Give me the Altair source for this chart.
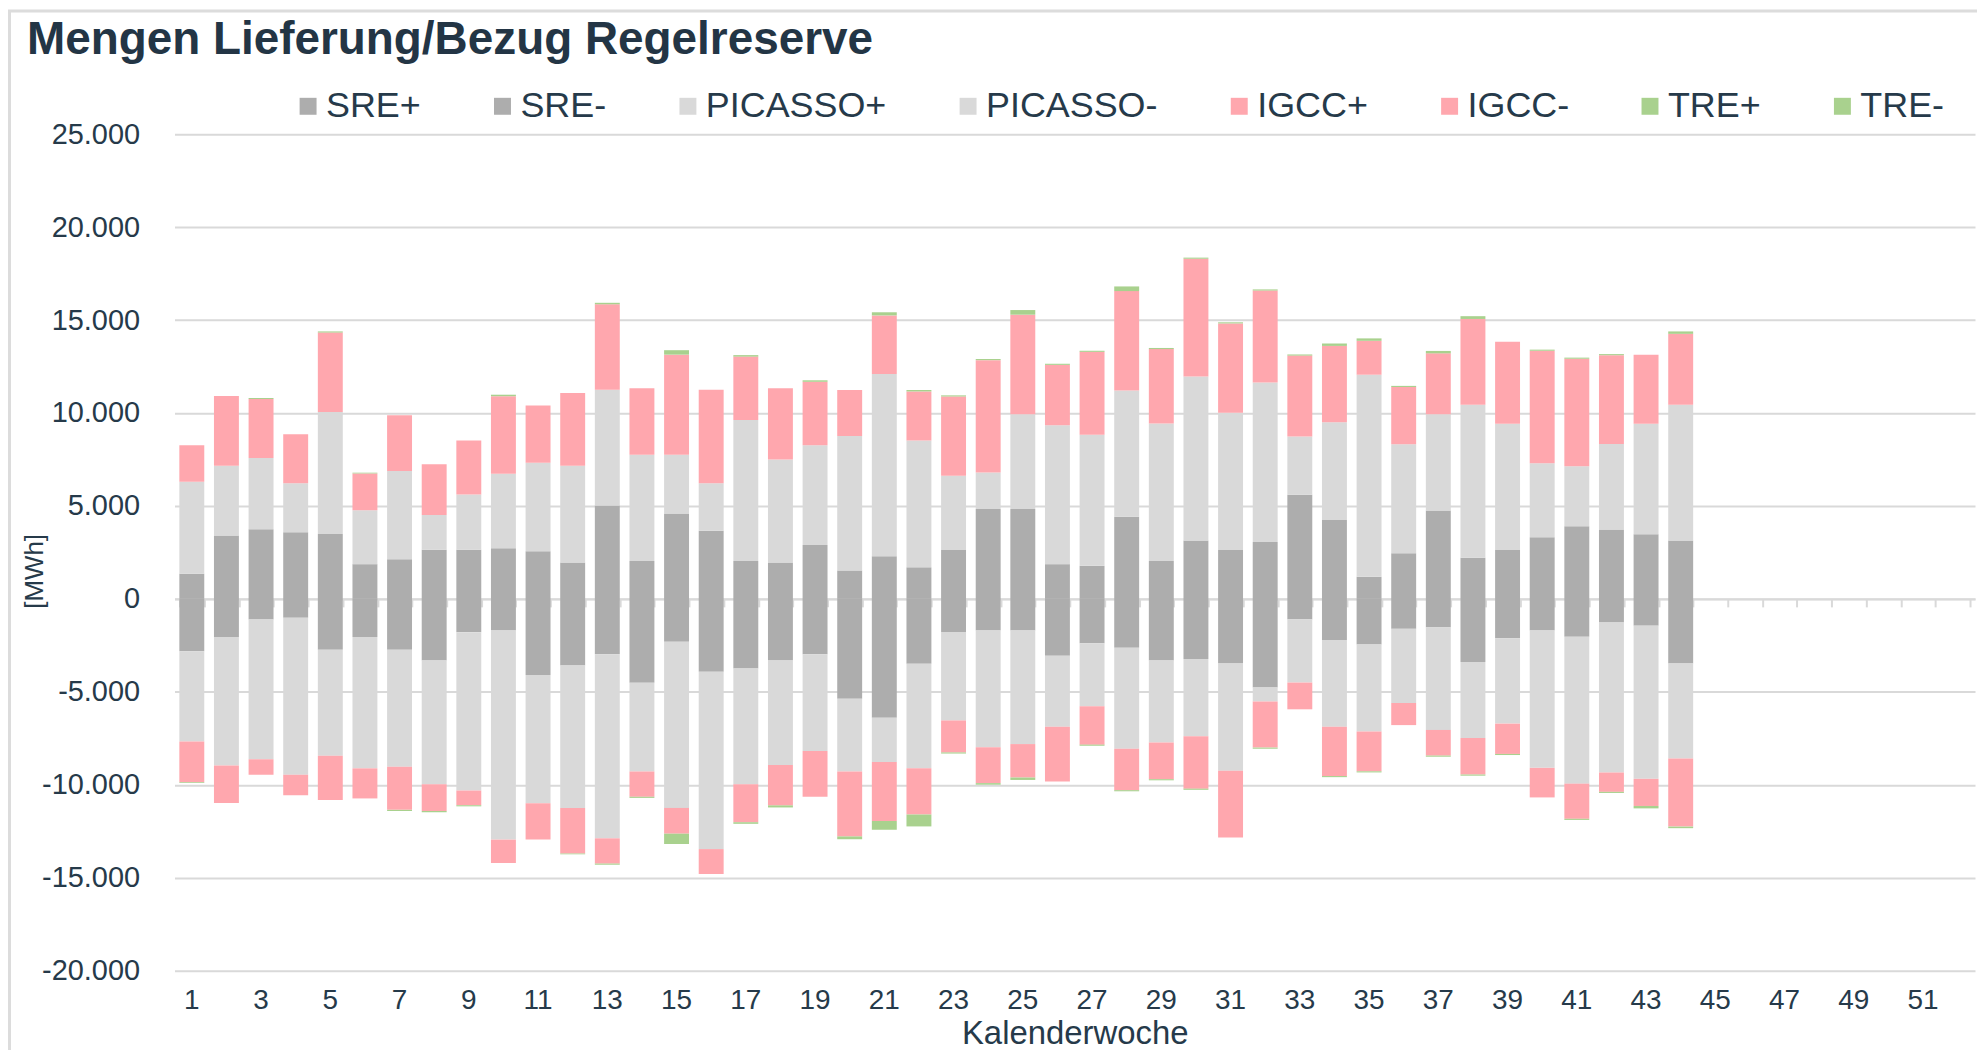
import altair as alt
import pandas as pd

# ---------------- data (MWh per calendar week) ----------------
weeks = list(range(1, 45))
all_weeks = list(range(1, 53))
odd_weeks = list(range(1, 53, 2))

series = ["SRE+", "SRE-", "PICASSO+", "PICASSO-", "IGCC+", "IGCC-", "TRE+", "TRE-"]
colors = ["#adadad", "#adadad", "#d9d9d9", "#d9d9d9", "#ffa7ae", "#ffa7ae", "#a9d18e", "#a9d18e"]

sre_plus = [1360, 3410, 3750, 3580, 3490, 1870, 2130, 2640, 2640, 2730, 2560, 1960, 5030, 2045,
            4600, 3660, 2045, 1960, 2900, 1530, 2300, 1700, 2630, 4840, 4840, 1870, 1780, 4420,
            2040, 3140, 2630, 3060, 5600, 4250, 1190, 2460, 4760, 2210, 2630, 3310, 3910, 3740,
            3480, 3140]
picasso_plus = [4940, 3750, 3830, 2640, 6560, 2900, 4750, 1875, 2980, 4000, 4770, 5200, 6220, 5710,
                3150, 2560, 7580, 5540, 5370, 7240, 9800, 6820, 3990, 1955, 5100, 7470, 7050, 6790,
                7390, 8830, 7390, 8580, 3140, 5260, 10870, 5860, 5180, 8240, 6790, 3990, 3230, 4590,
                5940, 7300]
igcc_plus = [1960, 3750, 3170, 2640, 4280, 1980, 3000, 2725, 2900, 4175, 3070, 3920, 4600, 3580,
             5390, 5030, 3410, 3835, 3410, 2470, 3150, 2640, 4270, 6050, 5350, 3250, 4460, 5350,
             4010, 6330, 4800, 4950, 4350, 4100, 1825, 3080, 3270, 4610, 4420, 6050, 5780, 4780,
             3720, 3820]
tre_plus = [0, 0, 60, 0, 60, 40, 0, 0, 0, 80, 0, 0, 80, 0,
            240, 0, 80, 0, 80, 0, 170, 80, 60, 60, 250, 60, 60, 250,
            60, 60, 60, 60, 60, 130, 130, 60, 130, 150, 0, 60, 60, 60,
            0, 130]

sre_minus = [-2810, -2045, -1110, -1020, -2730, -2045, -2730, -3320, -1790, -1700, -4090, -3580,
             -2980, -4515, -2300, -3920, -3750, -3320, -2980, -5370, -6390, -3490, -1780, -1700,
             -1700, -3060, -2380, -2630, -3310, -3230, -3480, -4760, -1100, -2210, -2460, -1610,
             -1530, -3400, -2120, -1700, -2040, -1270, -1440, -3480]
picasso_minus = [-4860, -6920, -7520, -8435, -5710, -7070, -6300, -6645, -8520, -11250, -6900, -7670,
                 -9900, -4770, -8946, -9540, -6220, -5620, -5200, -3920, -2390, -5620, -4760, -6280,
                 -6110, -3820, -3400, -5430, -4420, -4160, -5770, -760, -3400, -4670, -4670, -3990,
                 -5520, -4080, -4590, -7390, -7900, -8070, -8240, -5100]
igcc_minus = [-2190, -2020, -830, -1110, -2385, -1620, -2320, -1450, -790, -1260, -1960, -2450,
              -1360, -1360, -1385, -1340, -2045, -2170, -2470, -3490, -3170, -2490, -1720, -1930,
              -1800, -2950, -2060, -2230, -1970, -2820, -3590, -2480, -1440, -2650, -2145, -1190,
              -1380, -1970, -1630, -1590, -1890, -1040, -1460, -3670]
tre_minus = [-40, 0, 0, 0, 0, 0, -60, -60, -60, 0, 0, -40,
             -60, -60, -555, 0, -85, -110, 0, -150, -470, -640, -60, -85,
             -130, 0, -60, -60, -60, -60, 0, -60, 0, -60, -60, 0,
             -60, -60, -60, 0, -60, -60, -130, -85]

y_ticks = list(range(-20000, 25001, 5000))

# ---------------- long table ----------------
values_by_series = {
    "SRE+": sre_plus, "SRE-": sre_minus,
    "PICASSO+": picasso_plus, "PICASSO-": picasso_minus,
    "IGCC+": igcc_plus, "IGCC-": igcc_minus,
    "TRE+": tre_plus, "TRE-": tre_minus,
}
rows = []
for idx, name in enumerate(series):
    for w, v in zip(weeks, values_by_series[name]):
        rows.append({"week": w, "series": name, "idx": idx, "value": v})
df = pd.DataFrame(rows)

# ---------------- styling ----------------
FONT = "Liberation Sans"
TXT = "#263a4a"
GRID = "#d9d9d9"
W, H = 1806, 839
PAD_L, PAD_T = 167, 125
zero_offset = -H * 20000 / 45000

xscale = alt.Scale(domain=all_weeks, paddingInner=0.28, paddingOuter=0.14)
yscale = alt.Scale(domain=[-20000, 25000], nice=False, zero=False)

ylabel = "(datum.value < 0 ? '-' : '') + replace(format(abs(datum.value), ','), ',', '.')"

yaxis = alt.Axis(values=y_ticks, labelExpr=ylabel, title="[MWh]", domain=False,
                 ticks=False, grid=True, gridColor=GRID, gridWidth=2,
                 labelFont=FONT, labelFontSize=29, labelColor=TXT, labelPadding=35,
                 titleFont=FONT, titleFontSize=26, titleFontWeight="normal",
                 titleColor=TXT, titleAngle=270, titleX=-140, titleY=438,
                 titleAlign="center", titleBaseline="middle")

bars = alt.Chart(df).mark_bar().encode(
    x=alt.X("week:O", scale=xscale,
            axis=alt.Axis(values=odd_weeks, title="Kalenderwoche", domain=False, ticks=False,
                          tickSize=0, grid=False, labelAngle=0, labelFont=FONT, labelFontSize=28,
                          labelColor=TXT, labelPadding=38, labelBaseline="alphabetic",
                          titleFont=FONT, titleFontSize=33, titleFontWeight="normal",
                          titleColor=TXT, titleY=73, titleBaseline="alphabetic")),
    y=alt.Y("value:Q", stack="zero", scale=yscale, axis=yaxis),
    color=alt.Color("series:N", sort=series,
                    scale=alt.Scale(domain=series, range=colors),
                    legend=alt.Legend(title=None, orient="none", direction="horizontal",
                                      columns=8, legendX=116, legendY=-46,
                                      symbolType="square", symbolSize=289, symbolStrokeWidth=0,
                                      labelFont=FONT, labelFontSize=36, labelColor=TXT,
                                      labelOffset=0, labelLimit=500, columnPadding=63,
                                      padding=0)),
    order=alt.Order("idx:Q"),
)

zero_axis = alt.Chart(df).mark_bar(opacity=0).encode(
    x=alt.X("week:O", scale=xscale,
            axis=alt.Axis(orient="bottom", offset=zero_offset, labels=False, title=None,
                          grid=False, domain=True, domainColor=GRID, domainWidth=2,
                          ticks=True, tickBand="extent", tickSize=8, tickColor=GRID,
                          tickWidth=2)),
    y=alt.Y("value:Q", stack="zero", scale=yscale, axis=yaxis),
    order=alt.Order("idx:Q"),
)

# light outer frame of the chart (left and top edges, as in the reference)
frame = alt.Chart(pd.DataFrame({"f": [0]})).mark_rect(
    fill=None, stroke="#dcdcdc", strokeWidth=3
).encode(
    x=alt.value(-PAD_L + 1.5), x2=alt.value(W + 60),
    y=alt.value(-PAD_T + 1.5), y2=alt.value(H + 200),
)

chart = alt.layer(bars, zero_axis, frame).resolve_axis(x="independent").properties(
    width=W, height=H,
    autosize=alt.AutoSizeParams(type="none"),
    padding={"left": PAD_L, "top": PAD_T, "right": 2, "bottom": 78},
    background="white",
    title=alt.TitleParams("Mengen Lieferung/Bezug Regelreserve", anchor="start", frame="group",
                          font=FONT, fontSize=46, fontWeight="bold", color="#233545",
                          dx=-148, offset=-55),
).configure_view(strokeWidth=0, stroke="transparent")

chart.save("out.html", embed_options={"renderer": "svg", "actions": False})
